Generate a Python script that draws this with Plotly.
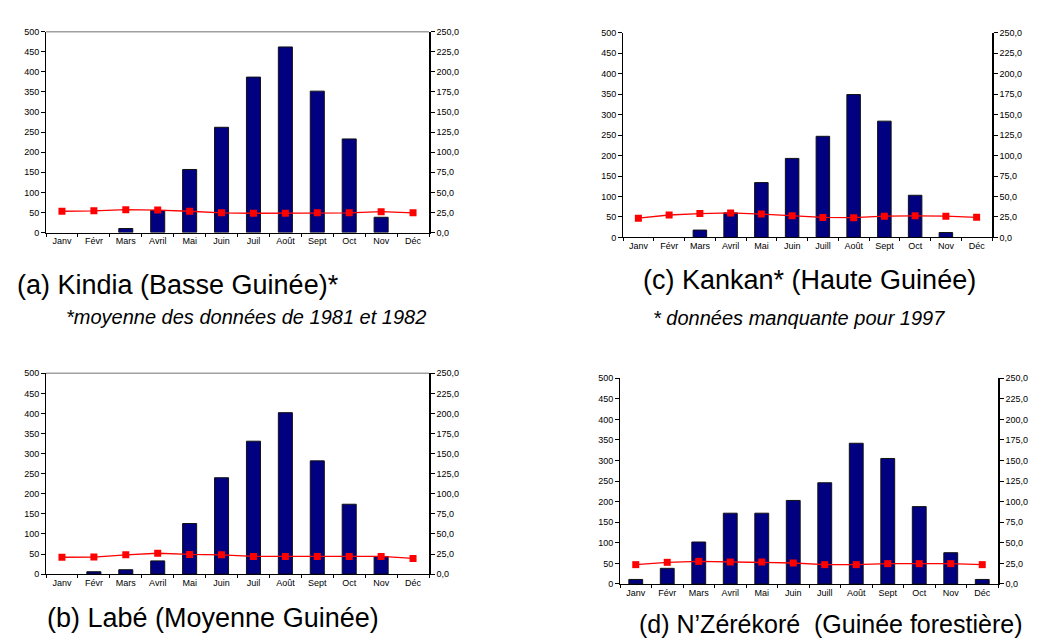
import plotly.graph_objects as go

# ---------------- data ----------------
months_a = ["Janv", "Févr", "Mars", "Avril", "Mai", "Juin", "Juil", "Août", "Sept", "Oct", "Nov", "Déc"]
months_b = ["Janv", "Févr", "Mars", "Avril", "Mai", "Juin", "Juil", "Août", "Sept", "Oct", "Nov", "Déc"]
months_c = ["Janv", "Févr", "Mars", "Avril", "Mai", "Juin", "Juill", "Août", "Sept", "Oct", "Nov", "Déc"]
months_d = ["Janv", "Févr", "Mars", "Avril", "Mai", "Juin", "Juill", "Août", "Sept", "Oct", "Nov", "Déc"]

rain_kindia = [0, 0, 10, 55, 157, 262, 387, 462, 352, 233, 38, 0]
temp_kindia = [26.5, 27.0, 28.5, 28.0, 26.5, 24.5, 24.0, 24.0, 24.5, 24.5, 26.0, 24.5]

rain_kankan = [0, 0, 18, 60, 134, 193, 247, 349, 284, 103, 12, 0]
temp_kankan = [23.6, 27.4, 29.2, 30.0, 28.6, 26.4, 24.4, 24.2, 26.0, 26.4, 26.0, 24.6]

rain_labe = [0, 6, 11, 33, 126, 240, 331, 402, 282, 174, 44, 0]
temp_labe = [21.0, 21.2, 24.0, 26.0, 24.5, 24.0, 22.0, 22.0, 22.0, 22.0, 22.0, 19.5]

rain_nzerekore = [11, 38, 102, 172, 172, 203, 246, 342, 305, 188, 76, 11]
temp_nzerekore = [23.5, 26.3, 27.5, 26.7, 26.7, 25.5, 23.5, 23.5, 24.7, 24.7, 24.7, 23.5]

left_ticks = [0, 50, 100, 150, 200, 250, 300, 350, 400, 450, 500]
right_ticks = [0, 25, 50, 75, 100, 125, 150, 175, 200, 225, 250]
right_ticktext = ["0,0", "25,0", "50,0", "75,0", "100,0", "125,0", "150,0", "175,0", "200,0", "225,0", "250,0"]

titles = ["(a) Kindia (Basse Guinée)*", "(c) Kankan* (Haute Guinée)",
          "(b) Labé (Moyenne Guinée)", "(d) N\u2019Zérékoré  (Guinée forestière)"]
subtitles = ["*moyenne des données de 1981 et 1982", "* données manquante pour 1997"]

# ---------------- layout helpers ----------------
W, H = 1043, 643
FONT = "Liberation Sans, Arial, sans-serif"

def px_x(v):
    return v / W

def px_y(v):
    return 1 - v / H

# plot areas in pixels: (left, right, top, bottom)
panels = [
    dict(months=months_a, rain=rain_kindia, temp=temp_kindia, box=(38, 421, 19, 223), top_line=True),
    dict(months=months_c, rain=rain_kankan, temp=temp_kankan, box=(615, 984, 20, 228), top_line=False),
    dict(months=months_b, rain=rain_labe, temp=temp_labe, box=(38, 421, 366, 570), top_line=True),
    dict(months=months_d, rain=rain_nzerekore, temp=temp_nzerekore, box=(612, 990, 371, 580), top_line=False),
]

fig = go.Figure()
layout = dict(
    width=W, height=H,
    margin=dict(l=0, r=0, t=0, b=0),
    paper_bgcolor="white", plot_bgcolor="white",
    showlegend=False,
    font=dict(family=FONT, color="black"),
    shapes=[], annotations=[],
)

tick_font = dict(family=FONT, size=9, color="black")

for i, p in enumerate(panels):
    xi = i + 1
    yl = 2 * i + 1
    yr = 2 * i + 2
    xname = "x" if xi == 1 else f"x{xi}"
    ylname = "y" if yl == 1 else f"y{yl}"
    yrname = f"y{yr}"
    l, r, t, b = p["box"]

    outline = [1 if v > 0 else 0 for v in p["rain"]]
    fig.add_trace(go.Bar(
        x=p["months"], y=p["rain"], xaxis=xname, yaxis=ylname,
        marker=dict(color="#000080", line=dict(color="#111111", width=outline)),
        width=0.44,
    ))
    fig.add_trace(go.Scatter(
        x=p["months"], y=p["temp"], xaxis=xname, yaxis=yrname,
        mode="lines+markers",
        line=dict(color="#FF0000", width=1.3),
        marker=dict(symbol="square", size=7, color="#FF0000"),
    ))

    layout[f"xaxis{xi if xi > 1 else ''}"] = dict(
        domain=[px_x(l), px_x(r)], anchor=ylname,
        type="category", range=[-0.5, 11.5],
        showline=True, linecolor="black", linewidth=1,
        ticks="outside", ticklen=3, tickcolor="black", tickson="boundaries",
        tickfont=tick_font, showgrid=False, zeroline=False, fixedrange=True,
    )
    layout[f"yaxis{yl if yl > 1 else ''}"] = dict(
        domain=[px_y(b), px_y(t)], anchor=xname,
        range=[0, 500], tickvals=left_ticks,
        showline=True, linecolor="black", linewidth=1,
        ticks="outside", ticklen=4, tickcolor="black",
        tickfont=tick_font, showgrid=False, zeroline=False,
    )
    layout[f"yaxis{yr}"] = dict(
        overlaying=ylname, side="right", anchor=xname,
        range=[0, 250], tickvals=right_ticks, ticktext=right_ticktext,
        showline=True, linecolor="black", linewidth=1.5,
        ticks="outside", ticklen=4, tickcolor="black",
        tickfont=tick_font, showgrid=False, zeroline=False,
    )
    if p["top_line"]:
        layout["shapes"].append(dict(
            type="line", xref="paper", yref="paper",
            x0=px_x(l), x1=px_x(r), y0=px_y(t), y1=px_y(t),
            line=dict(color="#a0a0a0", width=1.5),
        ))

# titles and notes
title_spec = [(170, 276, 27), (801, 271, 27), (205, 615, 27), (822, 621, 25)]
for txt, (cx, cy, fs) in zip(titles, title_spec):
    layout["annotations"].append(dict(
        text=txt, x=px_x(cx), y=px_y(cy), xref="paper", yref="paper",
        xanchor="center", yanchor="middle", showarrow=False,
        font=dict(family=FONT, size=fs, color="black"),
    ))
sub_pos = [(238, 309), (791, 310)]
for txt, (cx, cy) in zip(subtitles, sub_pos):
    layout["annotations"].append(dict(
        text=f"<i>{txt}</i>", x=px_x(cx), y=px_y(cy), xref="paper", yref="paper",
        xanchor="center", yanchor="middle", showarrow=False,
        font=dict(family=FONT, size=20, color="black"),
    ))

fig.update_layout(**layout)
fig.write_html("out.html")
